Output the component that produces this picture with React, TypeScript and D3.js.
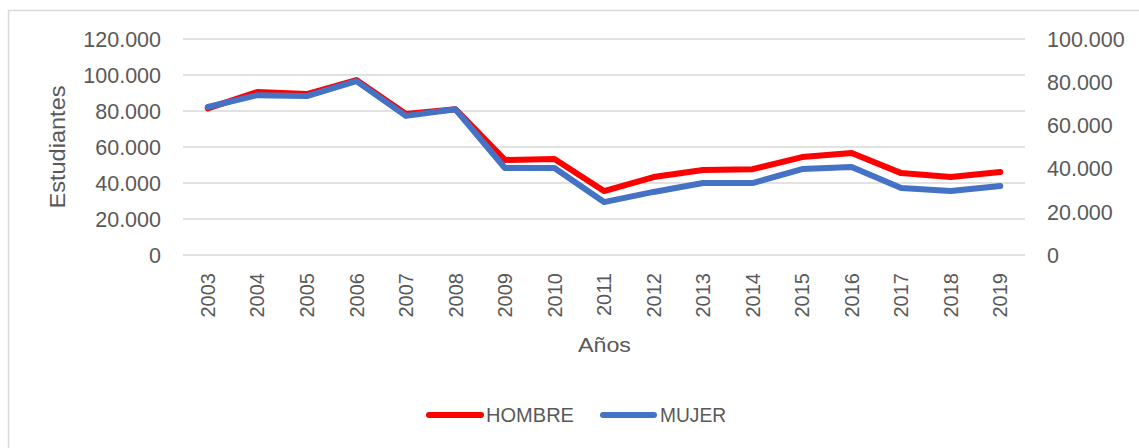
import React from "react";
import * as d3 from "d3";

const years = ["2003","2004","2005","2006","2007","2008","2009","2010","2011","2012","2013","2014","2015","2016","2017","2018","2019"];
const hombre = [81500,90500,89400,97200,78300,81000,52800,53300,35500,43300,47200,47700,54400,56700,45500,43300,46100];
const mujer = [68500,74000,73600,80500,64400,67500,40300,40300,24500,29200,33300,33300,39800,40700,31000,29600,31900];
const leftTicks = [0,20000,40000,60000,80000,100000,120000];
const rightTicks = [0,20000,40000,60000,80000,100000];

const fmt = (v: number) => v === 0 ? "0" : d3.format(",")(v).replace(/,/g, ".");

export default function App() {
  const W = 1139, H = 448;
  const plot = { left: 183, right: 1025, top: 39, bottom: 255 };
  const x = d3.scaleBand<string>().domain(years).range([plot.left, plot.right]);
  const yL = d3.scaleLinear().domain([0, 120000]).range([plot.bottom, plot.top]);
  const yR = d3.scaleLinear().domain([0, 100000]).range([plot.bottom, plot.top]);
  const cx = (d: string) => (x(d) as number) + x.bandwidth() / 2;
  const lineL = d3.line<number>().x((_, i) => cx(years[i])).y(v => yL(v));
  const lineR = d3.line<number>().x((_, i) => cx(years[i])).y(v => yR(v));
  const tickFont = "'Liberation Sans', Arial, sans-serif";
  const textColor = "#595959";
  return (
    <svg width={W} height={H} style={{ position: "absolute", left: 0, top: 0, background: "#fff" }}>
      <rect x={8.5} y={10.5} width={1200} height={500} fill="#fff" stroke="#d9d9d9" strokeWidth={1.5} />
      {leftTicks.map(t => (
        <line key={"g" + t} x1={plot.left} x2={plot.right} y1={yL(t)} y2={yL(t)} stroke="#d9d9d9" strokeWidth={1.5} />
      ))}
      {leftTicks.map(t => (
        <text key={"l" + t} x={161} y={yL(t)} dy="0.36em" textAnchor="end" fontFamily={tickFont} fontSize={21.5} fill={textColor}>{fmt(t)}</text>
      ))}
      {rightTicks.map(t => (
        <text key={"r" + t} x={1047} y={yR(t)} dy="0.36em" textAnchor="start" fontFamily={tickFont} fontSize={21.5} fill={textColor}>{fmt(t)}</text>
      ))}
      {years.map(yr => (
        <text key={"x" + yr} transform={`translate(${cx(yr)},273) rotate(-90)`} dy="0.36em" textAnchor="end" fontFamily={tickFont} fontSize={20} fill={textColor}>{yr}</text>
      ))}
      <text transform="translate(65,147) rotate(-90)" textAnchor="middle" fontFamily={tickFont} fontSize={22} fill={textColor} textLength={123} lengthAdjust="spacingAndGlyphs">Estudiantes</text>
      <text x={604.5} y={352} textAnchor="middle" fontFamily={tickFont} fontSize={21} fill={textColor} textLength={53} lengthAdjust="spacingAndGlyphs">Años</text>
      <path d={lineL(hombre) || ""} fill="none" stroke="#ff0000" strokeWidth={6} strokeLinejoin="round" strokeLinecap="round" />
      <path d={lineR(mujer) || ""} fill="none" stroke="#4472c4" strokeWidth={6} strokeLinejoin="round" strokeLinecap="round" />
      <line x1={429} x2={481} y1={415} y2={415} stroke="#ff0000" strokeWidth={6} strokeLinecap="round" />
      <text x={486} y={422} fontFamily={tickFont} fontSize={20} fill={textColor} textLength={88} lengthAdjust="spacingAndGlyphs">HOMBRE</text>
      <line x1={603} x2={654} y1={415} y2={415} stroke="#4472c4" strokeWidth={6} strokeLinecap="round" />
      <text x={660} y={422} fontFamily={tickFont} fontSize={20} fill={textColor} textLength={66} lengthAdjust="spacingAndGlyphs">MUJER</text>
    </svg>
  );
}
